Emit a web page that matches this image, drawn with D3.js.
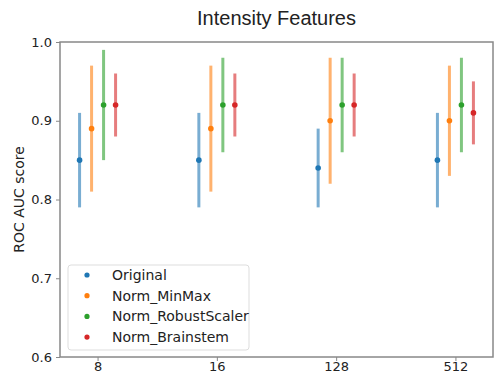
<!DOCTYPE html>
<html>
<head>
<meta charset="utf-8">
<script src="https://cdn.jsdelivr.net/npm/d3@7"></script>
<style>
  body { margin: 0; background: #fff; }
  text { font-family: "DejaVu Sans", sans-serif; fill: #222; }
</style>
</head>
<body>
<svg id="chart" width="494" height="375"></svg>
<script>
// feature sizes on the x axis
const sizes = ["8", "16", "128", "512"];
const seriesNames = ["Original", "Norm_MinMax", "Norm_RobustScaler", "Norm_Brainstem"];
const colours = ["#1f77b4", "#ff7f0e", "#2ca02c", "#d62728"];

// mean, low, high per size, one array per series
const originalMean = [0.85, 0.85, 0.84, 0.85];
const originalLow  = [0.79, 0.79, 0.79, 0.79];
const originalHigh = [0.91, 0.91, 0.89, 0.91];

const minmaxMean = [0.89, 0.89, 0.90, 0.90];
const minmaxLow  = [0.81, 0.81, 0.82, 0.83];
const minmaxHigh = [0.97, 0.97, 0.98, 0.97];

const robustMean = [0.92, 0.92, 0.92, 0.92];
const robustLow  = [0.85, 0.86, 0.86, 0.86];
const robustHigh = [0.99, 0.98, 0.98, 0.98];

const brainMean = [0.92, 0.92, 0.92, 0.91];
const brainLow  = [0.88, 0.88, 0.88, 0.87];
const brainHigh = [0.96, 0.96, 0.96, 0.95];

const yTicks = [0.6, 0.7, 0.8, 0.9, 1.0];

const series = [
  { mean: originalMean, low: originalLow, high: originalHigh },
  { mean: minmaxMean, low: minmaxLow, high: minmaxHigh },
  { mean: robustMean, low: robustLow, high: robustHigh },
  { mean: brainMean, low: brainLow, high: brainHigh },
];

const margin = { left: 60, right: 1, top: 42, bottom: 18 };
const W = 494, H = 375;
const svg = d3.select("#chart");

const x = d3.scalePoint().domain(sizes).range([margin.left, W - margin.right]).padding(0.315);
const y = d3.scaleLinear().domain([0.6, 1.0]).range([H - margin.bottom, margin.top]);
const offset = d3.scalePoint().domain(d3.range(series.length)).range([-18, 18]);

// frame
svg.append("rect")
  .attr("x", margin.left).attr("y", margin.top)
  .attr("width", W - margin.right - margin.left)
  .attr("height", H - margin.bottom - margin.top)
  .attr("fill", "none").attr("stroke", "#888").attr("stroke-width", 1.5);

const xAxis = svg.append("g")
  .attr("transform", `translate(0,${H - margin.bottom})`)
  .call(d3.axisBottom(x).tickSize(4).tickPadding(1));
const yAxis = svg.append("g")
  .attr("transform", `translate(${margin.left},0)`)
  .call(d3.axisLeft(y).tickValues(yTicks).tickFormat(d3.format(".1f")).tickSize(4).tickPadding(4));
[xAxis, yAxis].forEach(g => {
  g.select(".domain").remove();
  g.selectAll(".tick line").attr("stroke", "#888");
  g.selectAll(".tick text").style("font-size", "13px").attr("fill", "#333");
});

// error bars and means
series.forEach((s, i) => {
  const g = svg.append("g");
  g.selectAll("line").data(sizes).join("line")
    .attr("x1", (d) => x(d) + offset(i)).attr("x2", (d) => x(d) + offset(i))
    .attr("y1", (d, j) => y(s.low[j])).attr("y2", (d, j) => y(s.high[j]))
    .attr("stroke", colours[i]).attr("stroke-width", 3).attr("stroke-opacity", 0.6);
  g.selectAll("circle").data(sizes).join("circle")
    .attr("cx", (d) => x(d) + offset(i))
    .attr("cy", (d, j) => y(s.mean[j]))
    .attr("r", 2.8).attr("fill", colours[i]);
});

// title and y label
svg.append("text").attr("x", (margin.left + W - margin.right) / 2).attr("y", 25)
  .attr("text-anchor", "middle")
  .style("font-family", "'Liberation Sans', Arial, sans-serif").style("font-size", "20px")
  .text("Intensity Features");
svg.append("text")
  .attr("transform", `translate(24,${(margin.top + H - margin.bottom) / 2}) rotate(-90)`)
  .attr("text-anchor", "middle").style("font-size", "14px").text("ROC AUC score");

// legend
const legend = svg.append("g").attr("transform", "translate(68,265)");
legend.append("rect").attr("width", 181).attr("height", 85).attr("rx", 3)
  .attr("fill", "#fff").attr("fill-opacity", 0.8).attr("stroke", "#ddd");
seriesNames.forEach((name, i) => {
  const row = legend.append("g").attr("transform", `translate(0,${10 + i * 20.7})`);
  row.append("circle").attr("cx", 19).attr("cy", 0).attr("r", 2.6).attr("fill", colours[i]);
  row.append("text").attr("x", 44).attr("y", 5).style("font-size", "14px").text(name);
});
</script>
</body>
</html>
